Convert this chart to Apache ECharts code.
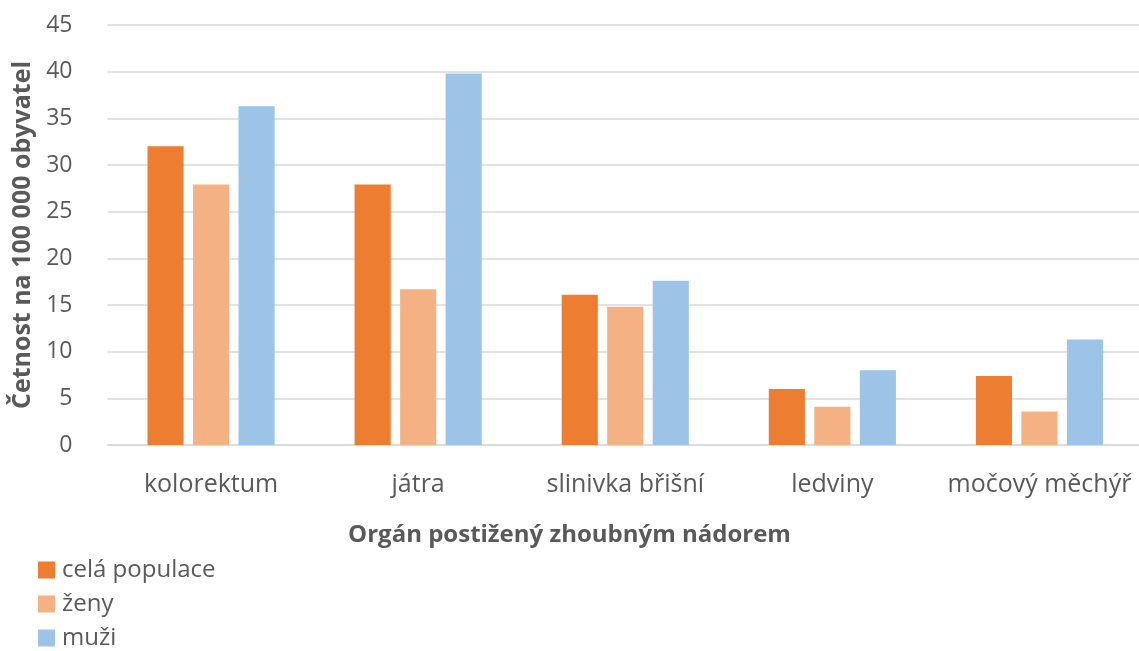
<!DOCTYPE html>
<html>
<head>
<meta charset="utf-8">
<script src="https://cdn.jsdelivr.net/npm/echarts@6/dist/echarts.min.js"></script>
<style>
  html, body { margin: 0; padding: 0; background: #fff; }
  #chart { width: 1139px; height: 651px; }
</style>
</head>
<body>
<div id="chart"></div>
<script>
// Incidence of malignant tumours per 100 000 inhabitants, by organ
const categories = ['kolorektum', 'játra', 'slinivka břišní', 'ledviny', 'močový měchýř'];
const celaPopulace = [32.0, 27.9, 16.1, 6.0, 7.4];
const zeny = [27.9, 16.7, 14.8, 4.1, 3.6];
const muzi = [36.3, 39.8, 17.6, 8.0, 11.3];
const seriesNames = ['celá populace', 'ženy', 'muži'];
const xTitle = 'Orgán postižený zhoubným nádorem';
const yTitle = 'Četnost na 100 000 obyvatel';
const colors = ['#ed7d31', '#f4b183', '#9dc3e6'];

const font = '"Open Sans", "Noto Sans", sans-serif';
const textColor = '#595959';
const chart = echarts.init(document.getElementById('chart'), null, { renderer: 'canvas' });

const mkSeries = (name, data, color) => ({
  name,
  type: 'bar',
  data,
  barGap: '26%',
  barCategoryGap: '38.6%',
  itemStyle: { color },
  emphasis: { disabled: true }
});

chart.setOption({
  animation: false,
  textStyle: { fontFamily: font },
  // x-axis title is centred on the whole chart, not on the plot area
  title: {
    text: xTitle,
    left: 'center',
    top: 523,
    padding: 0,
    textStyle: { fontFamily: font, fontSize: 24, fontWeight: 'bold', color: textColor }
  },
  grid: { left: 107.5, right: -4, top: 25, bottom: 206, outerBoundsMode: 'none', containLabel: false },
  legend: {
    orient: 'vertical',
    left: 38,
    top: 558,
    bottom: 0,
    padding: 0,
    itemGap: 10,
    itemWidth: 17,
    itemHeight: 17,
    icon: 'rect',
    textStyle: { fontFamily: font, fontSize: 24, lineHeight: 24, color: textColor, padding: [0, 0, 0, 2] },
    data: seriesNames
  },
  xAxis: {
    type: 'category',
    data: categories,
    axisLine: { lineStyle: { color: '#d9d9d9', width: 1.5 } },
    axisTick: { show: false },
    axisLabel: { interval: 0, fontFamily: font, fontSize: 25, color: textColor, margin: 27 }
  },
  yAxis: {
    type: 'value',
    min: 0,
    max: 45,
    interval: 5,
    axisLine: { show: false },
    axisTick: { show: false },
    axisLabel: { fontFamily: font, fontSize: 23, color: textColor, margin: 35 },
    splitLine: { lineStyle: { color: '#d9d9d9', width: 1.5 } },
    name: yTitle,
    nameLocation: 'middle',
    nameGap: 69,
    nameTextStyle: { fontFamily: font, fontSize: 25, fontWeight: 'bold', color: textColor }
  },
  series: [
    mkSeries(seriesNames[0], celaPopulace, colors[0]),
    mkSeries(seriesNames[1], zeny, colors[1]),
    mkSeries(seriesNames[2], muzi, colors[2])
  ]
});
</script>
</body>
</html>
